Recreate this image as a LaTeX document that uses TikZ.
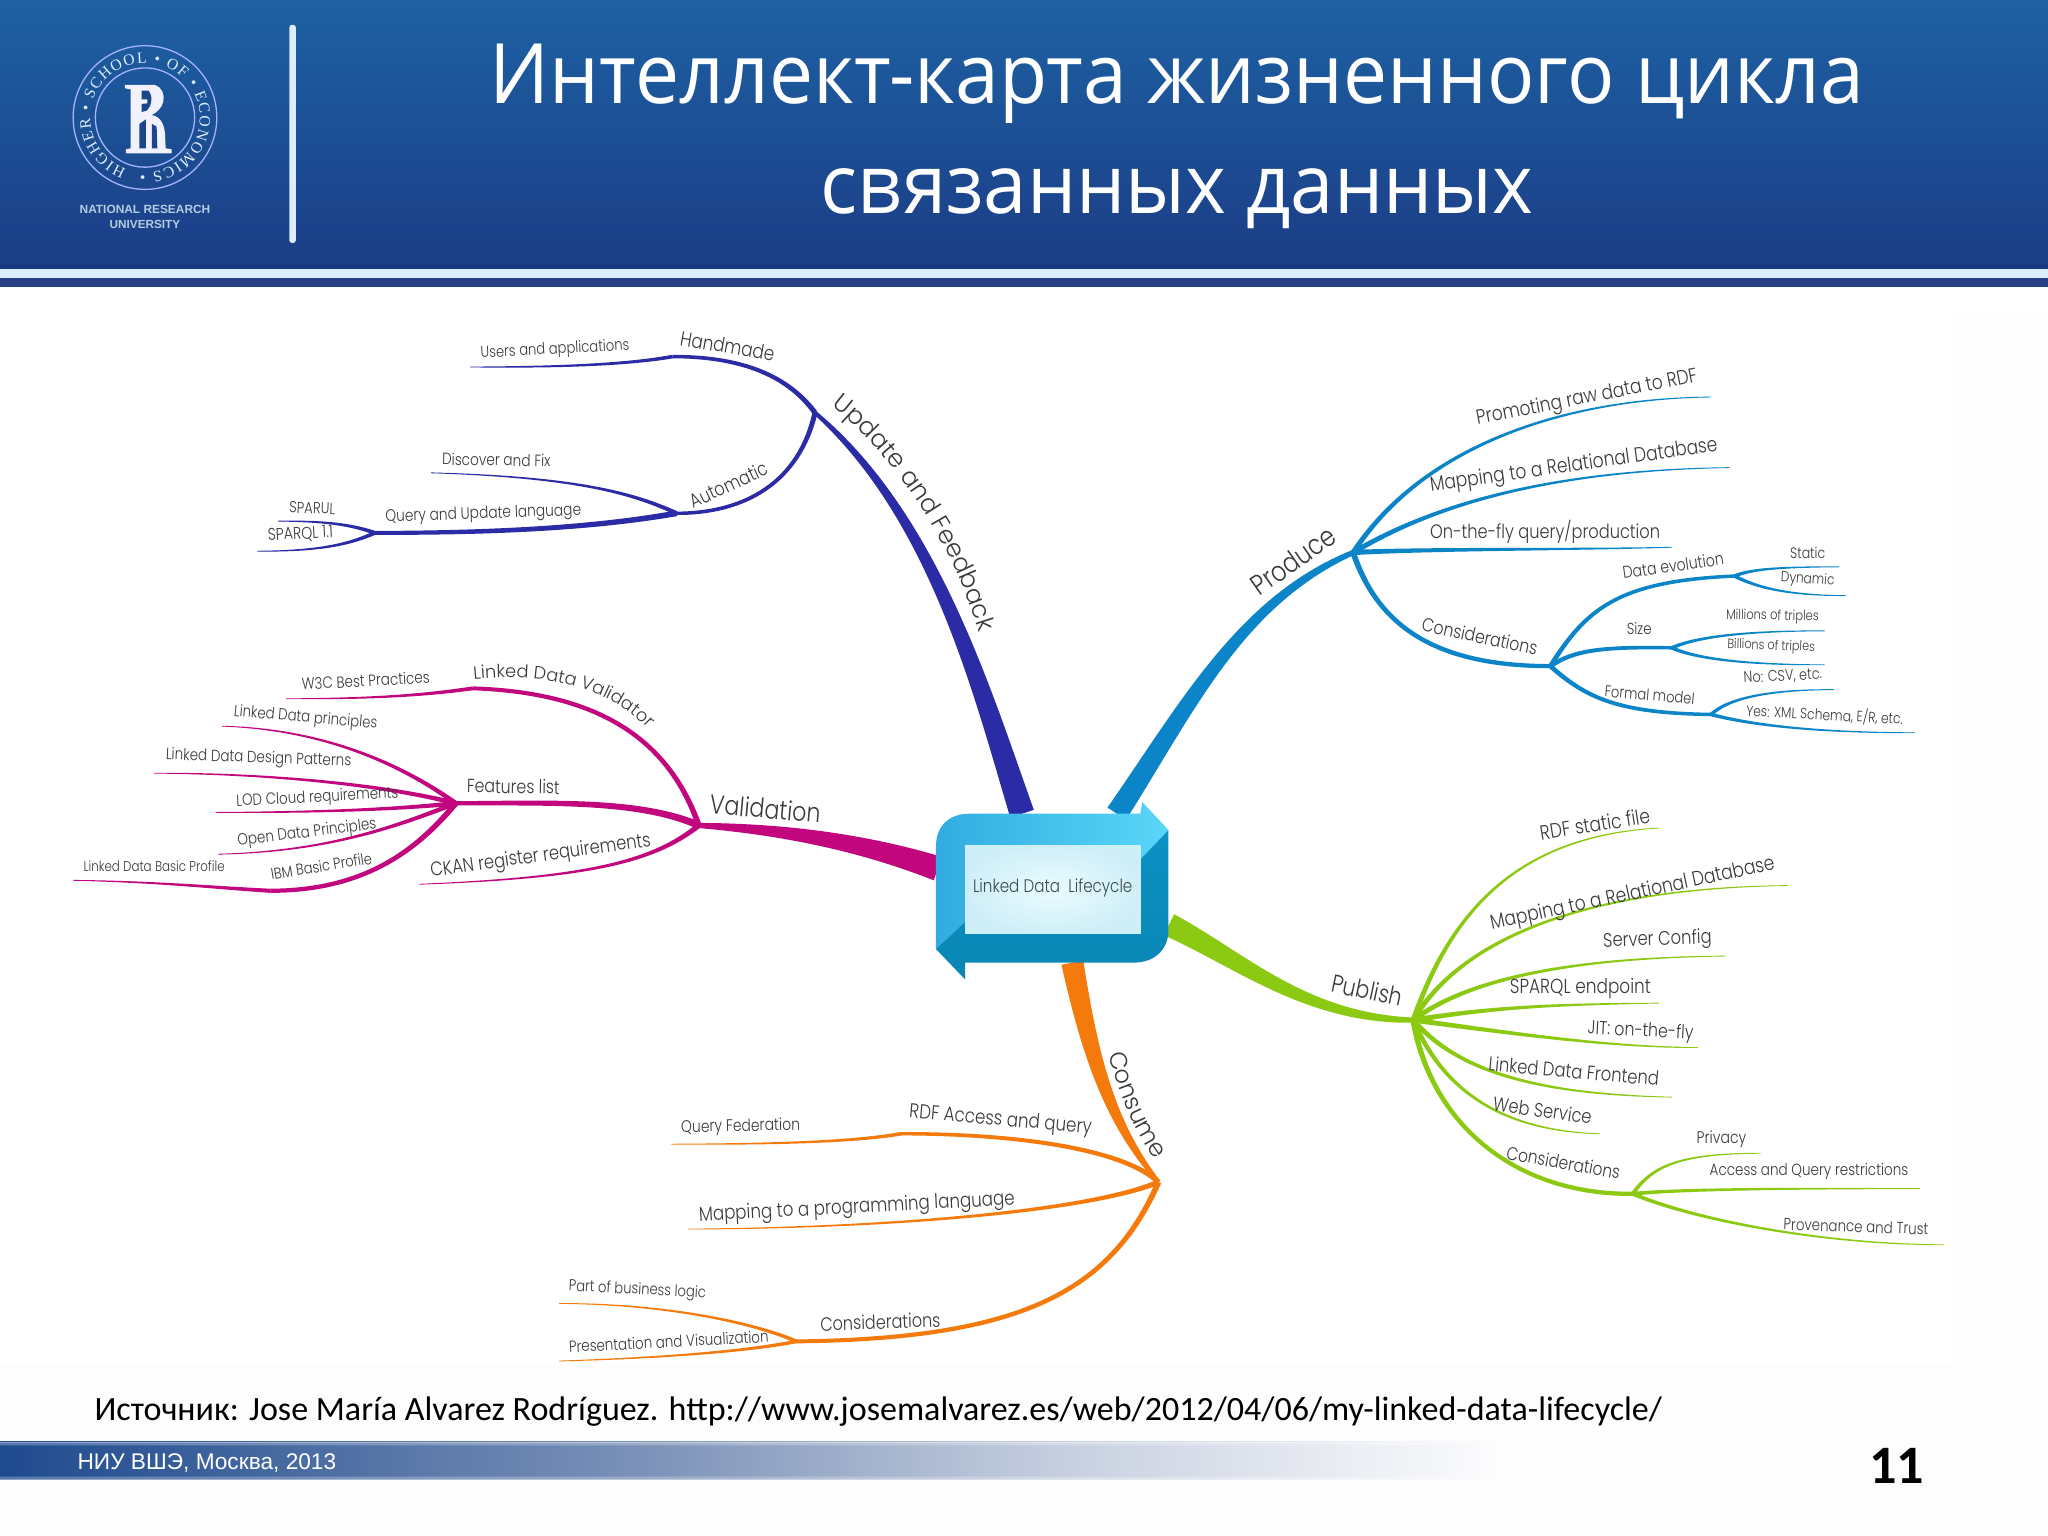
\documentclass[tikz,border=0pt]{standalone}
\usepackage{fontspec}
\usepackage{graphicx}
\usetikzlibrary{calc,decorations.text}
\setmainfont{Liberation Sans}
\newfontfamily\mapf{Poppins Light}
\newfontfamily\titlef{Open Sans}
\newfontfamily\califont{Carlito}
\newfontfamily\serf{Liberation Serif}
\definecolor{cnavy}{HTML}{2B2BA5}
\definecolor{cblue}{HTML}{0B85C8}
\definecolor{cgreen}{HTML}{8CC912}
\definecolor{corange}{HTML}{F57A0C}
\definecolor{cmag}{HTML}{C2077E}
\definecolor{ctext}{HTML}{3A3A3A}
\definecolor{hlight}{HTML}{DCEEFC}
\definecolor{hTop}{RGB}{30,97,163}
\definecolor{hBot}{RGB}{27,61,134}
\definecolor{hDark}{RGB}{26,56,125}
\definecolor{hNavy}{RGB}{38,63,133}
\definecolor{logoBg}{RGB}{28,70,140}
\definecolor{bandA}{RGB}{30,74,142}
\definecolor{bandB}{RGB}{125,147,185}
\definecolor{bandC}{RGB}{200,208,224}
\definecolor{frA}{RGB}{50,172,224}
\definecolor{frB}{RGB}{90,214,248}
\definecolor{dkA}{RGB}{11,146,196}
\definecolor{dkB}{RGB}{10,134,180}
\definecolor{panA}{RGB}{234,251,254}
\definecolor{panB}{RGB}{207,239,248}
\definecolor{ctrtxt}{RGB}{60,74,85}
\definecolor{pagebg}{RGB}{253,253,254}
% tapered branch: colour, from, c1, c2, end name, end xy, start half width, end half width
\newcommand{\tb}[8]{%
  \coordinate (#5) at (#6);
  \pgfmathsetlengthmacro\tbA{#7*0.5pt}%
  \pgfmathsetlengthmacro\tbB{(2*#7+#8)/3*0.5pt}%
  \pgfmathsetlengthmacro\tbC{(#7+2*#8)/3*0.5pt}%
  \pgfmathsetlengthmacro\tbD{#8*0.5pt}%
  \fill[#1] ($(#2)!\tbA!90:(#3)$) .. controls ($(#3)!\tbB!90:(#4)$) and ($(#4)!\tbC!90:(#5)$) .. ($(#5)!\tbD!-90:(#4)$)
    -- ($(#5)!\tbD!90:(#4)$) .. controls ($(#4)!\tbC!-90:(#5)$) and ($(#3)!\tbB!-90:(#4)$) .. ($(#2)!\tbA!-90:(#3)$) -- cycle;
}
% label: name, xy, rotation, width, text
\newcommand{\lb}[5]{%
  \node[lab,rotate=#3] (#1) at (#2) {\resizebox{\dimexpr #4pt/2\relax}{!}{\scalebox{1}[1.2]{\mapf #5}}};
}
\tikzset{
  lab/.style={inner sep=0pt,text=ctext},
}
\begin{document}
\begin{tikzpicture}[x=0.5pt,y=-0.5pt]
\useasboundingbox (0,0) rectangle (1568,1176);
\fill[pagebg] (0,0) rectangle (1568,1176);
\fill[white] (0,240) rectangle (1495,1045);
% header
\shade[top color=hTop,bottom color=hBot] (0,0) rectangle (1568,204);
\fill[hDark] (0,203) rectangle (1568,206);
\fill[hlight] (0,206) rectangle (1568,213);
\fill[hNavy] (0,213) rectangle (1568,220);
\fill[white] (0,220) rectangle (1568,240);
\fill[hlight,rounded corners=1pt] (221.5,19) rectangle (226.5,186);
% logo
\begin{scope}[shift={(111,90)},x=0.5pt,y=0.5pt]
  \draw[hlight!75!blue,line width=0.5pt] (0,0) circle (55);
  \draw[hlight!75!blue,line width=0.5pt] (0,0) circle (38);
  \path[decorate,decoration={text along path,text align={fit to path},text={|\serf\fontsize{6}{6}\selectfont\color{hlight}|HIGHER • SCHOOL • OF • ECONOMICS •}}]
    (250:42) arc[start angle=250,delta angle=-345,radius=42];
\end{scope}
\begin{scope}[x=0.1276pt,y=-0.1276pt]
  \fill[white!95!blue] (375,255) -- (465,255) .. controls (485,260) and (495,285) .. (490,305) .. controls (485,325) and (470,338) .. (455,345)
    .. controls (480,350) and (492,370) .. (495,400) -- (497,445) -- (515,448) -- (515,460) -- (378,460) -- (378,448) -- (392,445) -- (392,268) -- (375,265) -- cycle;
  \fill[logoBg] (425,272) -- (445,272) .. controls (458,285) and (458,315) .. (440,332) -- (425,336) -- (425,312) -- (442,310) -- (442,298) -- (425,298) -- cycle;
  \fill[logoBg] (418,372) -- (438,358) -- (438,445) -- (418,445) -- cycle;
  \fill[logoBg] (456,372) -- (470,380) -- (472,445) -- (456,445) -- cycle;
\end{scope}
\node[inner sep=0pt,text=hlight!80!hBot] (natres) at (111,160) {\resizebox{50pt}{!}{\bfseries NATIONAL RESEARCH}};
\node[inner sep=0pt,text=hlight!80!hBot] (univ) at (111,172) {\resizebox{27pt}{!}{\bfseries UNIVERSITY}};
% title
\node[inner sep=0pt,text=white] (t1) at (901,64) {\resizebox{526pt}{!}{\scalebox{1}[1.06]{\titlef Интеллект-карта жизненного цикла}}};
\node[inner sep=0pt,text=white] (t2) at (901,152) {\resizebox{273pt}{!}{\scalebox{1}[1.06]{\titlef связанных данных}}};
% footer band
\shade[left color=bandA,right color=bandB] (0,1104) rectangle (500,1133);
\shade[left color=bandB,right color=bandC] (500,1104) rectangle (820,1133);
\shade[left color=bandC,right color=pagebg] (820,1104) rectangle (1150,1133);
\foreach \i/\o in {0/0.5,1/0.25,2/0.1}{
  \fill[pagebg,opacity=\o] (0,1104+\i) rectangle (1150,1105+\i);
  \fill[pagebg,opacity=\o] (0,1133-\i) rectangle (1150,1132-\i);
}
\node[inner sep=0pt,text=white,anchor=west] (foot) at (59,1120) {\resizebox{99pt}{!}{НИУ ВШЭ, Москва, 2013}};
\node[inner sep=0pt,text=black,anchor=west] (src) at (72,1081) {\resizebox{600pt}{!}{\califont Источник: Jose María Alvarez Rodríguez. http://www.josemalvarez.es/web/2012/04/06/my-linked-data-lifecycle/}};
\node[inner sep=0pt,text=black] (num) at (1452,1122) {\resizebox{21pt}{!}{\califont\bfseries 11}};
% hubs
\coordinate (cN) at (782.5,623);
\coordinate (cE) at (855,623);
\coordinate (cR) at (895,708);
\coordinate (cS) at (821,737);
\coordinate (cW) at (718,665);
% Update and Feedback
\tb{cnavy}{cN}{752,530}{715,395}{uf}{624,316}{9.5}{1.5}
\tb{cnavy}{uf}{602,286}{565,273}{hm}{515,273}{2}{1.3}
\tb{cnavy}{hm}{470,281}{400,281}{lUsers}{360,281}{1.4}{0.3}
\tb{cnavy}{uf}{612,368}{572,393}{au}{518,393}{2}{1.3}
\tb{cnavy}{au}{480,375}{430,365}{lDisc}{330,362}{1.6}{0.3}
\tb{cnavy}{au}{450,405}{370,408}{qu}{287,408}{2.2}{1.5}
\tb{cnavy}{qu}{265,400}{240,399}{lSparul}{213,399}{1.5}{0.3}
\tb{cnavy}{qu}{265,418}{240,422}{lSparql}{197,422}{1.5}{0.3}
\path[decorate,decoration={text along path,text align={center},text={|\mapf\fontsize{9.5}{9.5}\selectfont\color{ctext}|Update and Feedback}}] (637,311) .. controls (667,333) and (722,395) .. (750,484);
\lb{nHand}{557,265}{-10}{73}{Handmade}
\lb{nUsers}{425,268}{3}{114}{Users and applications}
\lb{nAuto}{558,371}{25}{64}{Automatic}
\lb{nDisc}{380,352}{-1}{83}{Discover and Fix}
\lb{nQuery}{370,394}{2}{150}{Query and Update language}
\lb{nSparul}{239,389}{-2}{35}{SPARUL}
\lb{nSparql}{230,409}{3}{50}{SPARQL 1.1}
% Produce
\tb{cblue}{cE}{910,540}{950,460}{pr}{1036,423}{8.5}{2}
\tb{cblue}{pr}{1090,340}{1200,305}{lPromo}{1310,304}{2}{0.3}
\tb{cblue}{pr}{1100,385}{1190,360}{lMapP}{1324,358}{2}{0.3}
\tb{cblue}{pr}{1100,420}{1200,421}{lFly}{1280,419}{2}{0.3}
\tb{cblue}{pr}{1055,480}{1100,510}{pc}{1187,510}{2.2}{1.6}
\tb{cblue}{pc}{1215,465}{1240,445}{de}{1328,441}{1.8}{1.3}
\tb{cblue}{de}{1340,436}{1360,434}{lStatic}{1408,434}{1.4}{0.3}
\tb{cblue}{de}{1345,450}{1370,456}{lDyn}{1413,456}{1.4}{0.3}
\tb{cblue}{pc}{1205,498}{1225,495}{sz}{1280,496}{1.8}{1.3}
\tb{cblue}{sz}{1300,487}{1340,483}{lMil}{1397,483}{1.4}{0.3}
\tb{cblue}{sz}{1300,505}{1340,509}{lBil}{1397,509}{1.4}{0.3}
\tb{cblue}{pc}{1215,535}{1240,546}{fm}{1310,547}{1.8}{1.3}
\tb{cblue}{fm}{1325,533}{1360,528}{lNo}{1404,528}{1.4}{0.3}
\tb{cblue}{fm}{1340,555}{1390,561}{lYes}{1466,561}{1.4}{0.3}
\lb{nProd}{990,429}{35}{74}{Produce}
\lb{nPromo}{1215,305}{11}{172}{Promoting raw data to RDF}
\lb{nMapP}{1205,357}{8}{222}{Mapping to a Relational Database}
\lb{nFly}{1183,407}{0}{176}{On-the-fly query/production}
\lb{nConsP}{1133,487}{-12}{90}{Considerations}
\lb{nDE}{1281,433}{8}{78}{Data evolution}
\lb{nStatic}{1384,423}{0}{27}{Static}
\lb{nDyn}{1384,444}{-4}{41}{Dynamic}
\lb{nSize}{1255,481}{0}{19}{Size}
\lb{nMil}{1357,472}{-1}{71}{Millions of triples}
\lb{nBil}{1356,495}{-2}{67}{Billions of triples}
\lb{nFM}{1263,532}{-5}{69}{Formal model}
\lb{nNo}{1365,518}{3}{60}{No: CSV, etc.}
\lb{nYes}{1397,547}{-3}{120}{Yes: XML Schema, E/R, etc.}
% Publish
\tb{cgreen}{cR}{950,735}{1000,780}{pu}{1082,781}{9}{2}
\tb{cgreen}{pu}{1110,700}{1160,640}{lRdf}{1270,634}{2}{0.3}
\tb{cgreen}{pu}{1115,725}{1200,680}{lMapG}{1369,678}{2}{0.3}
\tb{cgreen}{pu}{1130,745}{1220,733}{lServ}{1321,732}{2}{0.3}
\tb{cgreen}{pu}{1150,770}{1200,769}{lSpq}{1270,768}{2}{0.3}
\tb{cgreen}{pu}{1150,790}{1230,802}{lJit}{1300,802}{2}{0.3}
\tb{cgreen}{pu}{1120,825}{1190,838}{lFront}{1280,840}{2}{0.3}
\tb{cgreen}{pu}{1105,835}{1150,866}{lWeb}{1225,868}{2}{0.3}
\tb{cgreen}{pu}{1095,860}{1160,915}{gc}{1250,914}{2.2}{1.6}
\tb{cgreen}{gc}{1265,893}{1285,883}{lPriv}{1348,883}{1.5}{0.3}
\tb{cgreen}{gc}{1290,910}{1380,910}{lAcc}{1470,910}{1.5}{0.3}
\tb{cgreen}{gc}{1300,935}{1400,953}{lProv}{1488,953}{1.5}{0.3}
\lb{nPub}{1047,758}{-12}{55}{Publish}
\lb{nRdf}{1221,631}{9}{85}{RDF static file}
\lb{nMapG}{1250,685}{12}{222}{Mapping to a Relational Database}
\lb{nServ}{1269,720}{2}{83}{Server Config}
\lb{nSpq}{1210,757}{0}{108}{SPARQL endpoint}
\lb{nJit}{1256,790}{-3}{81}{JIT: on-the-fly}
\lb{nFront}{1205,820}{-5}{131}{Linked Data Frontend}
\lb{nWeb}{1181,850}{-8}{76}{Web Service}
\lb{nConsG}{1197,890}{-10}{88}{Considerations}
\lb{nPriv}{1318,872}{0}{38}{Privacy}
\lb{nAcc}{1385,897}{0}{152}{Access and Query restrictions}
\lb{nProv}{1421,939}{-2}{111}{Provenance and Trust}
% Consume
\tb{corange}{cS}{835,810}{850,860}{co}{887,905}{8.5}{1.5}
\tb{corange}{co}{860,880}{780,868}{ra}{690,868}{2}{1.3}
\tb{corange}{ra}{650,875}{580,876}{lFed}{514,876}{1.4}{0.3}
\tb{corange}{co}{840,925}{700,940}{lMapO}{527,941}{2}{0.3}
\tb{corange}{co}{850,990}{780,1025}{oc}{610,1027}{2.2}{1.5}
\tb{corange}{oc}{570,1010}{500,998}{lPart}{428,998}{1.4}{0.3}
\tb{corange}{oc}{570,1035}{500,1040}{lPres}{428,1042}{1.4}{0.3}
\path[decorate,decoration={text along path,text align={center},text={|\mapf\fontsize{9.2}{9.2}\selectfont\color{ctext}|Consume}}] (849,808) .. controls (853,825) and (867,865) .. (884,887);
\lb{nRA}{766,858}{-5}{140}{RDF Access and query}
\lb{nFed}{567,863}{1}{91}{Query Federation}
\lb{nMapO}{656,925}{3}{242}{Mapping to a programming language}
\lb{nConsO}{674,1012}{2}{92}{Considerations}
\lb{nPart}{488,988}{-3}{105}{Part of business logic}
\lb{nPres}{512,1027}{3}{153}{Presentation and Visualization}
% Validation
\tb{cmag}{cW}{660,645}{600,635}{va}{535,632}{9.5}{2}
\tb{cmag}{va}{510,560}{450,530}{vd}{362,527}{2.2}{1.5}
\tb{cmag}{vd}{320,533}{280,535}{lW3}{219,535}{1.5}{0.3}
\tb{cmag}{va}{490,612}{420,615}{fl}{349,615}{2.8}{1.6}
\tb{cmag}{fl}{300,580}{240,558}{lPrin}{170,556}{1.8}{0.3}
\tb{cmag}{fl}{290,600}{200,592}{lDes}{118,592}{1.8}{0.3}
\tb{cmag}{fl}{300,620}{240,622}{lLod}{165,622}{1.8}{0.3}
\tb{cmag}{fl}{300,634}{250,652}{lOpen}{167,654}{1.8}{0.3}
\tb{cmag}{fl}{320,650}{280,682}{ib}{207,682}{2.2}{1.6}
\tb{cmag}{ib}{170,680}{120,675}{lBasic}{56,674}{1.6}{0.3}
\tb{cmag}{va}{500,660}{450,672}{lCkan}{321,677}{2}{0.3}
\path[decorate,decoration={text along path,text align={center},text={|\mapf\fontsize{6.8}{6.8}\selectfont\color{ctext}|Linked Data Validator}}] (364,520) .. controls (415,515) and (465,525) .. (495,557);
\lb{nVal}{586,619}{-5}{85}{Validation}
\lb{nW3}{280,521}{3}{98}{W3C Best Practices}
\lb{nFeat}{393,602}{-1}{71}{Features list}
\lb{nPrin}{234,550}{-5}{110}{Linked Data principles}
\lb{nDes}{198,581}{-2}{142}{Linked Data Design Patterns}
\lb{nLod}{243,611}{3}{124}{LOD Cloud requirements}
\lb{nOpen}{235,638}{7}{107}{Open Data Principles}
\lb{nIbm}{246,663}{9}{78}{IBM Basic Profile}
\lb{nBasic}{118,663}{0}{108}{Linked Data Basic Profile}
\lb{nCkan}{414,656}{8}{170}{CKAN register requirements}
% centre
\shade[left color=frA,right color=frB]
  (874.5,614) -- (894.6,635.5) -- (873.4,657.7) -- (873.4,647) -- (739,647) -- (739,705.7) -- (716.6,726.6) -- (716.6,648)
  .. controls (716.6,632) and (727,623) .. (742,623) -- (873,623) -- cycle;
\shade[top color=dkA,bottom color=dkB]
  (894.6,635.5) -- (894.6,712) .. controls (894.6,727) and (884,737) .. (868,737) -- (739,737) -- (739,750) -- (716.6,726.6) -- (739,705.7) -- (739,715) -- (873.4,715) -- (873.4,657.7) -- cycle;
\node[inner sep=0pt,minimum width=67pt,minimum height=34pt,inner color=panA,outer color=panB,shade] (ctr) at (806,681) {};
\node[inner sep=0pt,text=ctrtxt] (ctrl) at (806,680) {\resizebox{61pt}{!}{\scalebox{1}[1.2]{\mapf Linked Data\ \ Lifecycle}}};
\end{tikzpicture}
\end{document}
